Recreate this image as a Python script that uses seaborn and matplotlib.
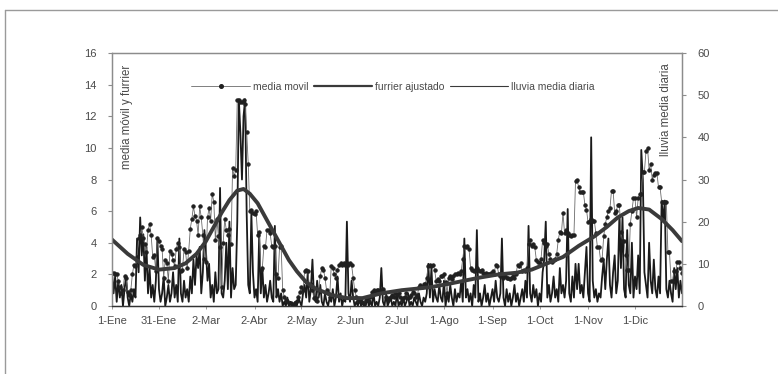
import numpy as np
import pandas as pd
import seaborn as sns
import matplotlib.pyplot as plt
from matplotlib.lines import Line2D

# ---------------- data ----------------
tick_days = [0, 30, 60, 91, 121, 152, 182, 212, 243, 273, 304, 334]
tick_labels = ["1-Ene", "31-Ene", "2-Mar", "2-Abr", "2-May", "2-Jun", "2-Jul",
               "1-Ago", "1-Sep", "1-Oct", "1-Nov", "1-Dic"]

# lluvia media diaria (right axis, daily)
lluvia = [
    8, 3, 7, 1, 6, 2, 5, 0, 4, 7,
    2, 0, 3, 1, 4, 2, 16, 8, 21, 12,
    17, 6, 14, 3, 9, 2, 5, 1, 6, 16,
    4, 1, 3, 7, 0, 2, 5, 1, 3, 8,
    2, 5, 1, 16, 3, 1, 6, 2, 4, 1,
    7, 3, 11, 5, 12, 9, 14, 3, 8, 18,
    13, 6, 10, 2, 5, 1, 8, 3, 4, 28,
    3, 2, 6, 15, 4, 20, 2, 9, 4, 5,
    20, 49, 41, 30, 45, 49, 22, 5, 3, 22,
    8, 2, 4, 1, 17, 3, 9, 2, 5, 1,
    3, 6, 2, 1, 19, 2, 4, 1, 3, 0,
    1, 0, 2, 0, 1, 0, 0, 1, 0, 2,
    1, 0, 3, 5, 2, 8, 1, 4, 11, 2,
    1, 6, 2, 5, 1, 0, 3, 1, 0, 2,
    1, 4, 0, 2, 7, 1, 3, 0, 2, 1,
    20, 3, 1, 6, 2, 0, 1, 0, 2, 0,
    1, 0, 0, 2, 0, 1, 0, 3, 0, 1,
    0, 2, 9, 1, 0, 3, 0, 1, 2, 0,
    1, 0, 3, 0, 1, 0, 2, 0, 1, 3,
    0, 1, 0, 2, 1, 0, 3, 1, 0, 2,
    1, 3, 10, 2, 9, 1, 4, 2, 1, 5,
    2, 1, 6, 0, 3, 1, 5, 2, 0, 4,
    1, 3, 2, 6, 1, 16, 2, 4, 1, 3,
    0, 5, 2, 18, 1, 3, 0, 2, 5, 1,
    3, 0, 2, 4, 1, 6, 2, 1, 3, 16,
    2, 0, 4, 1, 3, 0, 2, 5, 1, 3,
    0, 2, 4, 1, 6, 2, 19, 3, 1, 5,
    2, 4, 0, 3, 1, 8, 11, 20, 2, 5,
    1, 3, 7, 2, 4, 1, 9, 3, 5, 2,
    6, 23, 3, 1, 7, 2, 10, 4, 10, 3,
    5, 2, 8, 14, 3, 1, 40, 6, 2, 4,
    1, 3, 2, 7, 11, 4, 11, 16, 5, 2,
    8, 12, 3, 6, 21, 9, 21, 4, 2, 18,
    5, 3, 15, 2, 7, 4, 12, 3, 37, 30,
    8, 5, 2, 15, 6, 3, 11, 4, 2, 7,
    3, 25, 20, 25, 4, 2, 6, 3, 1, 9,
    4, 9, 2, 6, 3,
]

# media movil (left axis, daily)
media_movil = [
    2.1, 2.1, 2.0, 2.0, 1.6, 1.2, 0.8, 1.0, 1.9, 1.8,
    0.9, 0.7, 1.0, 2.0, 2.6, 2.5, 3.1, 4.3, 4.5, 5.0,
    4.3, 3.9, 3.4, 4.8, 5.2, 4.5, 3.1, 3.2, 2.2, 4.3,
    4.1, 3.8, 3.6, 1.8, 2.9, 2.7, 1.6, 3.5, 3.3, 2.9,
    2.5, 3.6, 4.0, 3.7, 2.2, 2.3, 3.6, 3.4, 2.4, 3.5,
    4.9, 5.5, 6.3, 5.7, 5.4, 4.5, 6.3, 5.6, 4.5, 3.0,
    2.8, 5.6, 6.2, 5.4, 7.1, 6.6, 4.2, 5.5, 4.4, 3.7,
    1.2, 4.0, 5.5, 4.8, 4.5, 4.9, 3.9, 8.7, 8.2, 8.6,
    13.0, 13.0, 12.9, 12.9, 13.0, 12.8, 11.0, 9.0, 6.0, 6.1,
    5.9, 5.8, 6.0, 4.5, 4.7, 2.3, 2.4, 3.8, 3.7, 4.8,
    4.8, 4.6, 3.8, 3.7, 3.8, 2.0, 1.8, 3.7, 3.8, 1.0,
    0.6, 0.4, 0.3, 0.2, 0.2, 0.1, 0.0, 0.2, 0.3, 0.6,
    0.9, 1.2, 1.0, 2.2, 2.3, 2.2, 1.3, 1.4, 1.0, 0.5,
    0.5, 0.3, 1.0, 1.9, 2.4, 2.3, 1.8, 1.0, 0.8, 0.6,
    2.5, 2.4, 2.0, 1.8, 2.3, 2.6, 2.7, 2.6, 2.7, 2.6,
    2.7, 2.6, 2.7, 2.6, 1.8, 1.0, 0.6, 0.4, 0.3, 0.3,
    0.2, 0.2, 0.4, 0.5, 0.3, 0.6, 0.9, 1.0, 0.9, 1.0,
    1.0, 0.9, 1.0, 1.1, 0.9, 0.6, 0.4, 0.5, 0.6, 0.7,
    0.6, 0.8, 0.7, 0.8, 0.6, 0.4, 0.5, 0.6, 0.8, 0.5,
    0.6, 0.7, 0.9, 0.8, 0.6, 0.7, 1.2, 1.3, 1.2, 1.4,
    1.4, 1.8, 2.5, 2.6, 2.5, 2.6, 2.3, 1.6, 1.7, 1.6,
    1.9, 1.9, 2.0, 1.5, 0.8, 1.8, 1.9, 1.7, 1.9, 2.0,
    2.0, 2.1, 2.0, 2.2, 3.0, 3.8, 3.7, 3.8, 3.6, 2.4,
    2.3, 2.2, 2.3, 2.4, 2.3, 2.2, 2.3, 2.1, 2.0, 2.1,
    2.0, 2.0, 2.1, 2.2, 2.0, 2.6, 2.5, 2.0, 1.9, 2.0,
    1.8, 1.9, 1.8, 1.8, 1.7, 1.8, 1.9, 1.8, 2.0, 2.6,
    2.5, 2.7, 2.2, 2.3, 2.2, 2.4, 3.9, 4.2, 3.8, 3.9,
    3.7, 2.9, 2.8, 2.7, 3.0, 4.2, 4.0, 3.8, 3.9, 3.3,
    3.0, 2.8, 2.9, 3.0, 3.3, 4.2, 4.7, 4.6, 5.9, 4.6,
    4.8, 4.6, 4.5, 4.4, 4.5, 4.5, 7.9, 8.0, 7.5, 7.2,
    7.2, 7.2, 6.4, 6.1, 5.3, 5.4, 5.5, 5.4, 5.4, 4.6,
    3.7, 3.7, 2.9, 3.0, 4.4, 5.2, 5.6, 6.0, 6.2, 7.3,
    7.3, 5.9, 6.0, 6.4, 6.4, 4.7, 4.1, 4.1, 3.2, 2.3,
    2.3, 5.2, 6.0, 6.8, 6.8, 5.6, 6.8, 7.1, 7.1, 8.5,
    8.5, 9.8, 10.0, 8.6, 9.0, 8.0, 8.3, 8.4, 8.4, 7.5,
    7.5, 6.6, 6.6, 6.6, 6.6, 3.4, 3.4, 1.6, 1.6, 2.2,
    2.2, 2.8, 2.8, 2.4, 2.1,
]

# furrier ajustado (left axis, sampled days)
fourier_days = [0, 10, 20, 30, 40, 47, 54, 60, 65, 70, 75, 80, 84, 88, 93, 98,
                103, 108, 113, 118, 124, 130, 140, 150, 160, 172, 185, 195, 204,
                215, 225, 235, 247, 258, 268, 278, 288, 298, 308, 316, 323, 330,
                336, 343, 351, 358, 364]
fourier_vals = [4.2, 3.3, 2.6, 2.3, 2.4, 2.7, 3.3, 4.1, 5.0, 5.9, 6.7, 7.3, 7.4,
                7.1, 6.5, 5.6, 4.7, 3.8, 2.9, 2.2, 1.5, 1.1, 0.7, 0.5, 0.5, 0.8,
                1.0, 1.1, 1.2, 1.4, 1.6, 1.8, 2.0, 2.1, 2.3, 2.7, 3.1, 3.8, 4.4,
                5.0, 5.6, 6.0, 6.2, 6.1, 5.5, 4.8, 4.1]

left_ticks = [0, 2, 4, 6, 8, 10, 12, 14, 16]
right_ticks = [0, 10, 20, 30, 40, 50, 60]

# ---------------- plot ----------------
sns.set_style("white")
plt.rcParams['font.family'] = ['Liberation Sans Narrow', 'Liberation Sans', 'DejaVu Sans']

days = np.arange(len(lluvia))
df = pd.DataFrame({"dia": days, "lluvia": lluvia, "media": media_movil})
df_f = pd.DataFrame({"dia": fourier_days, "fourier": fourier_vals})

W, H = 778, 374
fig = plt.figure(figsize=(W / 100, H / 100), dpi=100)
x0, x1, y0, y1 = 112, 682, 53, 306
ax = fig.add_axes([x0 / W, 1 - y1 / H, (x1 - x0) / W, (y1 - y0) / H])
ax2 = ax.twinx()

txt_col = "#4a4a4a"
axis_col = "#8c8c8c"

# rainfall on right axis (drawn below)
sns.lineplot(data=df, x="dia", y="lluvia", ax=ax2, color="#1a1a1a", lw=1.3,
             legend=False)
# moving average + fourier on left axis (drawn on top)
sns.lineplot(data=df, x="dia", y="media", ax=ax, color="#6a6a6a", lw=0.6,
             marker="o", markersize=2.4, markerfacecolor="#202020",
             markeredgecolor="#202020", legend=False)
sns.lineplot(data=df_f, x="dia", y="fourier", ax=ax, color="#3a3a3a", lw=2.8,
             legend=False)

ax.set_zorder(ax2.get_zorder() + 1)
ax.patch.set_visible(False)

ax.set_xlim(0, 364)
ax.set_ylim(0, 16)
ax2.set_ylim(0, 60)
ax.set_yticks(left_ticks)
ax.set_yticklabels([str(v) for v in left_ticks])
ax2.set_yticks(right_ticks)
ax2.set_yticklabels([str(v) for v in right_ticks])
ax.set_xticks(tick_days)
ax.set_xticklabels(tick_labels)
ax.set_xlabel("")
ax.set_ylabel("")
ax2.set_ylabel("")

for a in (ax, ax2):
    for s in a.spines.values():
        s.set_color(axis_col)
        s.set_linewidth(0.9)
    a.spines['bottom'].set_color("#333333")
ax.tick_params(axis='y', which='both', left=True, length=3, width=0.8,
               color=axis_col, labelsize=8, labelcolor=txt_col, pad=8)
ax2.tick_params(axis='y', which='both', right=True, length=3, width=0.8,
                color=axis_col, labelsize=8, labelcolor=txt_col, pad=8)
ax.tick_params(axis='x', bottom=True, length=2, width=0.6, color=axis_col,
               labelsize=8, labelcolor=txt_col, pad=5)

ax.text((127 - x0) / (x1 - x0), (y1 - 65) / (y1 - y0), "media móvil y furrier",
        transform=ax.transAxes, rotation=90, ha="center", va="top",
        fontsize=8.3, color=txt_col)
ax.text((666 - x0) / (x1 - x0), (y1 - 63) / (y1 - y0), "lluvia media diaria",
        transform=ax.transAxes, rotation=90, ha="center", va="top",
        fontsize=8.3, color=txt_col)

handles = [
    Line2D([], [], color="#6a6a6a", lw=0.6, marker="o", markersize=2.6,
           markerfacecolor="#202020", markeredgecolor="#202020", markevery=[1]),
    Line2D([], [], color="#3a3a3a", lw=1.6),
    Line2D([], [], color="#3a3a3a", lw=0.8),
]
leg = ax.legend(handles, ["media movil", "furrier ajustado", "lluvia media diaria"],
                loc="center", bbox_to_anchor=((393 - x0) / (x1 - x0), (y1 - 87) / (y1 - y0)),
                ncol=3, frameon=False, fontsize=7.5, handlelength=5.6,
                handletextpad=0.3, columnspacing=0.5, labelcolor=txt_col)

# outer frame of the figure
fig.add_artist(Line2D([5 / W, 1.0], [1 - 10 / H, 1 - 10 / H], transform=fig.transFigure,
                      color="#9a9a9a", lw=1.0))
fig.add_artist(Line2D([5 / W, 5 / W], [0.0, 1 - 10 / H], transform=fig.transFigure,
                      color="#9a9a9a", lw=1.0))

fig.savefig("out.png", dpi=100)
